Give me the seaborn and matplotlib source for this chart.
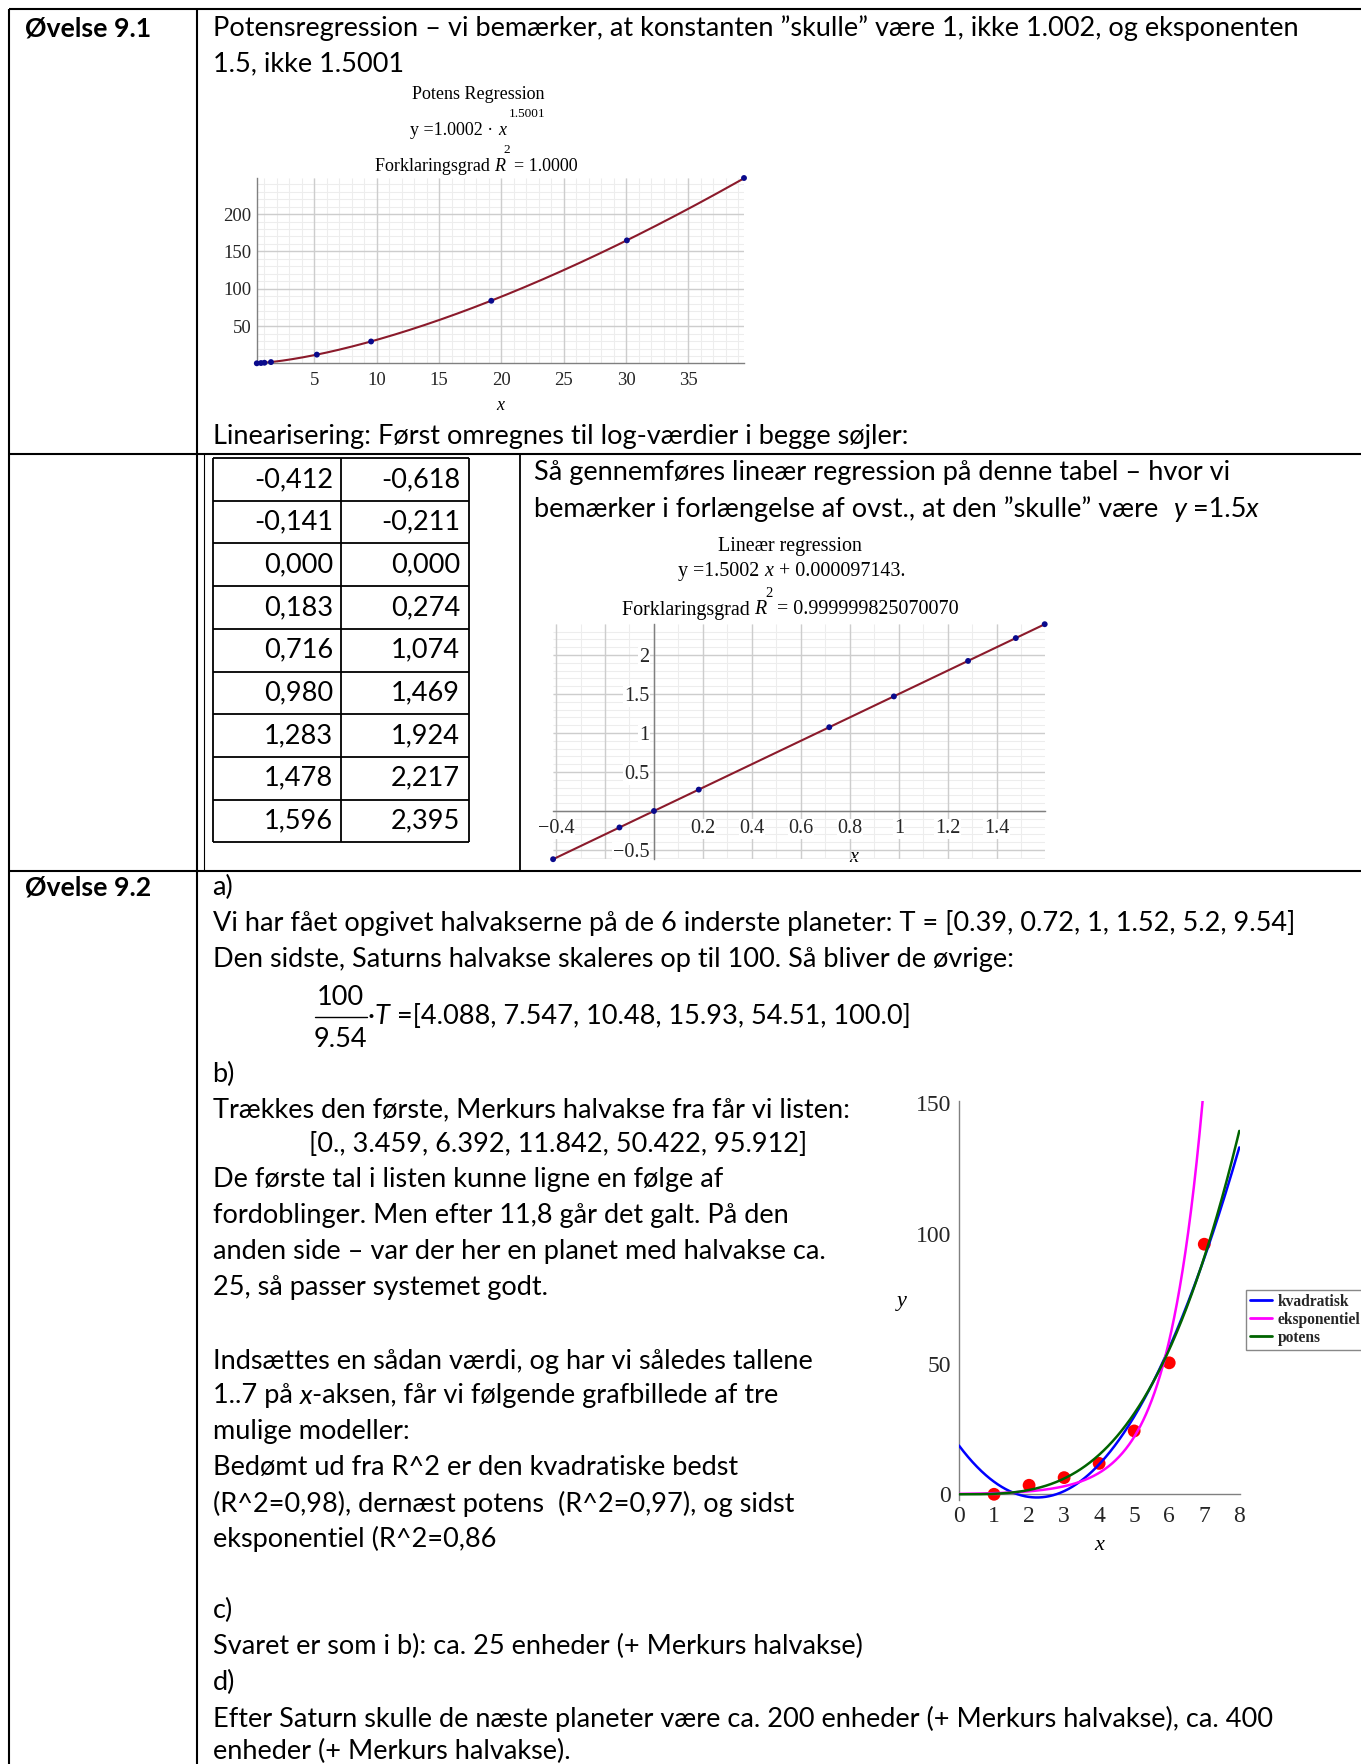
import numpy as np
import matplotlib
matplotlib.use("Agg")
import matplotlib.pyplot as plt
import seaborn as sns
from matplotlib.ticker import MultipleLocator

# ---------------- data ----------------
# Øvelse 9.1 : planets (half axis, period)
pot_x = [0.387, 0.723, 1.0, 1.524, 5.20, 9.55, 19.19, 30.06, 39.45]
pot_y = [0.241, 0.615, 1.0, 1.879, 11.86, 29.44, 83.95, 164.8, 248.3]
pot_coef = 1.0002
pot_exp = 1.5001

# log values (table + linear regression)
log_x = [-0.412, -0.141, 0.000, 0.183, 0.716, 0.980, 1.283, 1.478, 1.596]
log_y = [-0.618, -0.211, 0.000, 0.274, 1.074, 1.469, 1.924, 2.217, 2.395]
lin_slope = 1.5002
lin_icpt = 0.000097143

# Øvelse 9.2
plan_x = [1, 2, 3, 4, 5, 6, 7]
plan_y = [0.0, 3.459, 6.392, 11.842, 24.3, 50.422, 95.912]
quad_coef = [4.024, -17.897, 18.68]
exp_coef = [0.16, 0.985]
pow_coef = [0.1796, 3.2]
model_names = ["kvadratisk", "eksponentiel", "potens"]

# tick labels
p1_xticks = [5, 10, 15, 20, 25, 30, 35]
p1_yticks = [50, 100, 150, 200]
p2_xticks = [-0.4, -0.2, 0.0, 0.2, 0.4, 0.6, 0.8, 1.0, 1.2, 1.4]
p2_xlabels = ["\u22120.4", "", "", "0.2", "0.4", "0.6", "0.8", "1", "1.2", "1.4"]
p2_yticks = [-0.5, 0.0, 0.5, 1.0, 1.5, 2.0]
p2_ylabels = ["\u22120.5", "", "0.5", "1", "1.5", "2"]
p3_xticks = [0, 1, 2, 3, 4, 5, 6, 7, 8]
p3_yticks = [0, 50, 100, 150]

# ---------------- figure ----------------
sns.set_theme(style="white")
plt.rcParams['font.family'] = ['Liberation Serif', 'DejaVu Serif']
plt.rcParams['axes.unicode_minus'] = True

W, H = 1361, 1764
fig = plt.figure(figsize=(W / 100, H / 100), dpi=100)
fig.patch.set_facecolor('white')
bg = fig.add_axes([0, 0, 1, 1])
bg.set_xlim(0, W)
bg.set_ylim(H, 0)
bg.axis('off')
R = fig.canvas.get_renderer()

BODY = 'Lato'


def hline(x0, x1, y, lw=1.5):
    bg.plot([x0, x1], [y, y], color='black', lw=lw, solid_capstyle='butt')


def vline(x, y0, y1, lw=1.5):
    bg.plot([x, x], [y0, y1], color='black', lw=lw, solid_capstyle='butt')


def seq(x, y, parts, **common):
    ts = []
    for s, kw in parts:
        d = dict(common)
        d.update(kw)
        t = bg.text(x, y, s, ha='left', va='center', **d)
        ts.append(t)
        x = t.get_window_extent(R).x1
    return ts


def fit_size(text, target, **kw):
    t = bg.text(0, 0, text, fontsize=20, **kw)
    w = t.get_window_extent(R).width
    t.remove()
    return 20 * target / w


L1 = "Potensregression \u2013 vi bemærker, at konstanten \u201dskulle\u201d være 1, ikke 1.002, og eksponenten"
FS = fit_size(L1, 1093, family=BODY)
FSB = fit_size("Øvelse 9.1", 126, family=BODY, weight='bold')
body = dict(family=BODY, fontsize=FS, color='black')
bold = dict(family=BODY, fontsize=FSB, color='black', weight='bold')
ital = {'style': 'italic'}

# ---------------- table lines ----------------
hline(9, W, 9)
vline(9, 9, H)
vline(197, 9, H)
hline(9, W, 454)
hline(9, W, 871)
vline(204, 454, 871, lw=0.8)
vline(520, 454, 871, lw=1.3)
tab_top, row_h = 458, 42.7
for i in range(len(log_x) + 1):
    hline(213, 469, tab_top + i * row_h, lw=1.3)
for xv in (213, 341, 469):
    vline(xv, tab_top, tab_top + len(log_x) * row_h, lw=1.3)
for i, (a, b) in enumerate(zip(log_x, log_y)):
    yc = tab_top + (i + 0.5) * row_h
    bg.text(333, yc, f"{a:.3f}".replace('.', ','), ha='right', va='center', **body)
    bg.text(460, yc, f"{b:.3f}".replace('.', ','), ha='right', va='center', **body)

# ---------------- body text ----------------
bg.text(24.7, 28, "Øvelse 9.1", ha='left', va='center', **bold)
bg.text(24.7, 887.5, "Øvelse 9.2", ha='left', va='center', **bold)

TX = 212.6
bg.text(TX, 28.1, L1, ha='left', va='center', **body)
bg.text(TX, 64.1, "1.5, ikke 1.5001", ha='left', va='center', **body)
bg.text(TX, 436.4, "Linearisering: Først omregnes til log-værdier i begge søjler:",
        ha='left', va='center', **body)

bg.text(534.3, 472.4, "Så gennemføres lineær regression på denne tabel \u2013 hvor vi",
        ha='left', va='center', **body)
seq(534.3, 509.5, [("bemærker i forlængelse af ovst., at den \u201dskulle\u201d være  ", {}),
                   ("y", ital), (" =1.5", {}), ("x", ital)], **body)

lines92 = [
    (TX, 887.5, "a)"),
    (TX, 923.5, "Vi har fået opgivet halvakserne på de 6 inderste planeter: T = [0.39, 0.72, 1, 1.52, 5.2, 9.54]"),
    (TX, 959.5, "Den sidste, Saturns halvakse skaleres op til 100. Så bliver de øvrige:"),
    (TX, 1074.2, "b)"),
    (TX, 1110.2, "Trækkes den første, Merkurs halvakse fra får vi listen:"),
    (309.3, 1145.0, "[0., 3.459, 6.392, 11.842, 50.422, 95.912]"),
    (TX, 1180.0, "De første tal i listen kunne ligne en følge af"),
    (TX, 1216.0, "fordoblinger. Men efter 11,8 går det galt. På den"),
    (TX, 1252.0, "anden side \u2013 var der her en planet med halvakse ca."),
    (TX, 1288.0, "25, så passer systemet godt."),
    (TX, 1361.0, "Indsættes en sådan værdi, og har vi således tallene"),
    (TX, 1432.0, "mulige modeller:"),
    (TX, 1468.0, "Bedømt ud fra R^2 er den kvadratiske bedst"),
    (TX, 1504.0, "(R^2=0,98), dernæst potens  (R^2=0,97), og sidst"),
    (TX, 1538.7, "eksponentiel (R^2=0,86"),
    (TX, 1610.7, "c)"),
    (TX, 1646.7, "Svaret er som i b): ca. 25 enheder (+ Merkurs halvakse)"),
    (TX, 1682.7, "d)"),
    (TX, 1718.7, "Efter Saturn skulle de næste planeter være ca. 200 enheder (+ Merkurs halvakse), ca. 400"),
    (TX, 1751.3, "enheder (+ Merkurs halvakse)."),
]
for x, y, s in lines92:
    bg.text(x, y, s, ha='left', va='center', **body)
seq(TX, 1396.0, [("1..7 på ", {}), ("x", ital), ("-aksen, får vi følgende grafbillede af tre", {})], **body)

# fraction
bg.text(340.8, 997.7, "100", ha='center', va='center', **body)
bg.text(340.8, 1039.3, "9.54", ha='center', va='center', **body)
bg.plot([315, 366.7], [1016.8, 1016.8], color='black', lw=1.0)
seq(367.8, 1016.8, [("\u00b7", {}), ("T", ital), (" =[4.088, 7.547, 10.48, 15.93, 54.51, 100.0]", {})], **body)


# ---------------- axes helpers ----------------
def px_axes(l, t, r, b):
    return fig.add_axes([l / W, 1 - b / H, (r - l) / W, (b - t) / H])


AXC = '#808080'
CURVE = '#8B1A2B'
NAVY = '#0A0A8C'
GMAJ = '#cdcdcd'
GMIN = '#ededed'


def style_axes(ax, zero=False):
    ax.set_facecolor('none')
    for s in ['top', 'right']:
        ax.spines[s].set_visible(False)
    for s in ['left', 'bottom']:
        ax.spines[s].set_color(AXC)
        ax.spines[s].set_linewidth(1.0)
        if zero:
            ax.spines[s].set_position(('data', 0))


def manual_grid(ax, xmaj, xmin_step, ymaj, ymin_step):
    x0, x1 = ax.get_xlim()
    y0, y1 = ax.get_ylim()
    xm = MultipleLocator(xmin_step).tick_values(x0, x1)
    ym = MultipleLocator(ymin_step).tick_values(y0, y1)
    xm = [v for v in xm if x0 <= v <= x1]
    ym = [v for v in ym if y0 <= v <= y1]
    ax.vlines(xm, y0, y1, colors=GMIN, lw=0.8, zorder=0.1)
    ax.hlines(ym, x0, x1, colors=GMIN, lw=0.8, zorder=0.1)
    ax.vlines(xmaj, y0, y1, colors=GMAJ, lw=1.0, zorder=0.2)
    ax.hlines(ymaj, x0, x1, colors=GMAJ, lw=1.0, zorder=0.2)
    ax.set_xlim(x0, x1)
    ax.set_ylim(y0, y1)


serif = dict(family='Liberation Serif', color='black')

# ---------------- plot 1 : potens regression ----------------
ax1 = px_axes(256.8, 178.0, 744.0, 363.3)
style_axes(ax1)
xs1 = np.linspace(min(pot_x), max(pot_x), 400)
sns.lineplot(x=xs1, y=pot_coef * xs1 ** pot_exp, ax=ax1, color=CURVE, lw=1.5, estimator=None)
sns.scatterplot(x=pot_x, y=pot_y, ax=ax1, color=NAVY, s=18, edgecolor='none', zorder=4, clip_on=False)
ax1.set_xlim(min(pot_x), max(pot_x))
ax1.set_ylim(min(pot_y), max(pot_y))
ax1.set_xticks(p1_xticks)
ax1.set_yticks(p1_yticks)
ax1.xaxis.set_minor_locator(MultipleLocator(1))
ax1.yaxis.set_minor_locator(MultipleLocator(10))
ax1.tick_params(which='major', direction='out', length=3, width=1, color=AXC, labelsize=13.5)
ax1.tick_params(axis='x', which='major', pad=3)
ax1.tick_params(axis='y', which='major', pad=1)
ax1.tick_params(which='minor', direction='out', length=2, width=0.8, color=AXC)
ax1.grid(False)
manual_grid(ax1, p1_xticks, 1, p1_yticks, 10)
ax1.set_xlabel("")
ax1.set_ylabel("")

bg.text(478, 94.5, "Potens Regression", ha='center', va='center', fontsize=13, **serif)
t = seq(410.5, 130.5, [("y =1.0002 \u00b7 ", {}), ("x", ital)], fontsize=13, **serif)
x_end = t[-1].get_window_extent(R).x1
bg.text(x_end + 3, 113.6, "1.5001", ha='left', va='center', fontsize=9.5, **serif)
t = seq(374.6, 166.5, [("Forklaringsgrad ", {}), ("R", ital), ("  = 1.0000", {})], fontsize=13, **serif)
r_end = t[1].get_window_extent(R).x1
bg.text(r_end + 2, 149.6, "2", ha='center', va='center', fontsize=9.5, **serif)
bg.text(500.5, 405, "x", ha='center', va='center', fontsize=13, style='italic', **serif)

# ---------------- plot 2 : lineær regression ----------------
ax2 = px_axes(553.1, 624.2, 1044.7, 859.2)
style_axes(ax2, zero=True)
xs2 = np.linspace(min(log_x), max(log_x), 100)
sns.lineplot(x=xs2, y=lin_slope * xs2 + lin_icpt, ax=ax2, color=CURVE, lw=1.5, estimator=None)
sns.scatterplot(x=log_x, y=log_y, ax=ax2, color=NAVY, s=18, edgecolor='none', zorder=4, clip_on=False)
ax2.set_xlim(min(log_x), max(log_x))
ax2.set_ylim(min(log_y), max(log_y))
ax2.set_xticks(p2_xticks, p2_xlabels)
ax2.set_yticks(p2_yticks, p2_ylabels)
ax2.xaxis.set_minor_locator(MultipleLocator(0.1))
ax2.yaxis.set_minor_locator(MultipleLocator(0.1))
ax2.tick_params(which='major', direction='out', length=3, width=1, color=AXC, labelsize=14.5)
ax2.tick_params(axis='x', which='major', pad=3)
ax2.tick_params(axis='y', which='major', pad=0.5)
ax2.tick_params(which='minor', direction='out', length=2, width=0.8, color=AXC)
ax2.grid(False)
manual_grid(ax2, p2_xticks, 0.1, p2_yticks, 0.1)
ax2.set_xlabel("")
ax2.set_ylabel("")
for lbl in ax2.get_xticklabels() + ax2.get_yticklabels():
    lbl.set_bbox(dict(facecolor='white', edgecolor='none', pad=0.5))

bg.text(790, 546.7, "Lineær regression", ha='center', va='center', fontsize=14.4, **serif)
t = seq(0, 571.7, [("y =1.5002 ", {}), ("x", ital), (" + 0.000097143.", {})], fontsize=14.4, **serif)
wtot = t[-1].get_window_extent(R).x1 - t[0].get_window_extent(R).x0
for tt in t:
    tt.set_x(tt.get_position()[0] + 791.7 - wtot / 2)
t = seq(621.7, 610, [("Forklaringsgrad ", {}), ("R", ital), ("  = 0.999999825070070", {})],
        fontsize=14.4, **serif)
r_end = t[1].get_window_extent(R).x1
bg.text(r_end + 2, 593.3, "2", ha='center', va='center', fontsize=10.5, **serif)
bg.text(853.7, 857, "x", ha='center', va='center', fontsize=14.4, style='italic', **serif)

# ---------------- plot 3 : three models ----------------
ax3 = px_axes(959, 1100.6, 1240, 1499.5)
style_axes(ax3, zero=True)
xs3 = np.linspace(0, 8, 500)
sns.scatterplot(x=plan_x, y=plan_y, ax=ax3, color='#ff0000', s=85, edgecolor='none', zorder=2, clip_on=False)
sns.lineplot(x=xs3, y=np.polyval(quad_coef, xs3), ax=ax3, color='#0000ff', lw=1.8,
             estimator=None, label=model_names[0], zorder=3)
sns.lineplot(x=xs3, y=exp_coef[0] * np.exp(exp_coef[1] * xs3), ax=ax3, color='#ff00ff', lw=1.8,
             estimator=None, label=model_names[1], zorder=3)
sns.lineplot(x=xs3, y=pow_coef[0] * xs3 ** pow_coef[1], ax=ax3, color='#006400', lw=1.8,
             estimator=None, label=model_names[2], zorder=3)
ax3.set_xlim(0, 8.02)
ax3.set_ylim(-2, 151)
ax3.set_xticks(p3_xticks)
ax3.set_yticks(p3_yticks)
ax3.xaxis.set_minor_locator(MultipleLocator(0.5))
ax3.yaxis.set_minor_locator(MultipleLocator(10))
ax3.tick_params(which='major', direction='out', length=3.5, width=1, color=AXC, labelsize=17)
ax3.tick_params(axis='x', which='major', pad=5)
ax3.tick_params(axis='y', which='major', pad=2)
ax3.tick_params(which='minor', direction='out', length=2, width=0.8, color=AXC)
ax3.grid(False)
ax3.set_xlabel("")
ax3.set_ylabel("")
leg = ax3.legend(loc='upper left', bbox_to_anchor=(1246 / W, 1 - 1290 / H),
                 bbox_transform=fig.transFigure, frameon=True, fancybox=False,
                 edgecolor='#888888', framealpha=1, borderaxespad=0,
                 prop={'family': 'Liberation Serif', 'weight': 'bold', 'size': 11.2},
                 handlelength=1.45, handletextpad=0.35, borderpad=0.25, labelspacing=0.12)
for ln in leg.get_lines():
    ln.set_linewidth(2.0)
leg.get_frame().set_linewidth(1.0)
bg.text(901.7, 1301.7, "y", ha='center', va='center', fontsize=16, style='italic', **serif)
bg.text(1099, 1545, "x", ha='center', va='center', fontsize=16, style='italic', **serif)

fig.savefig("out.png", dpi=100, facecolor='white')
